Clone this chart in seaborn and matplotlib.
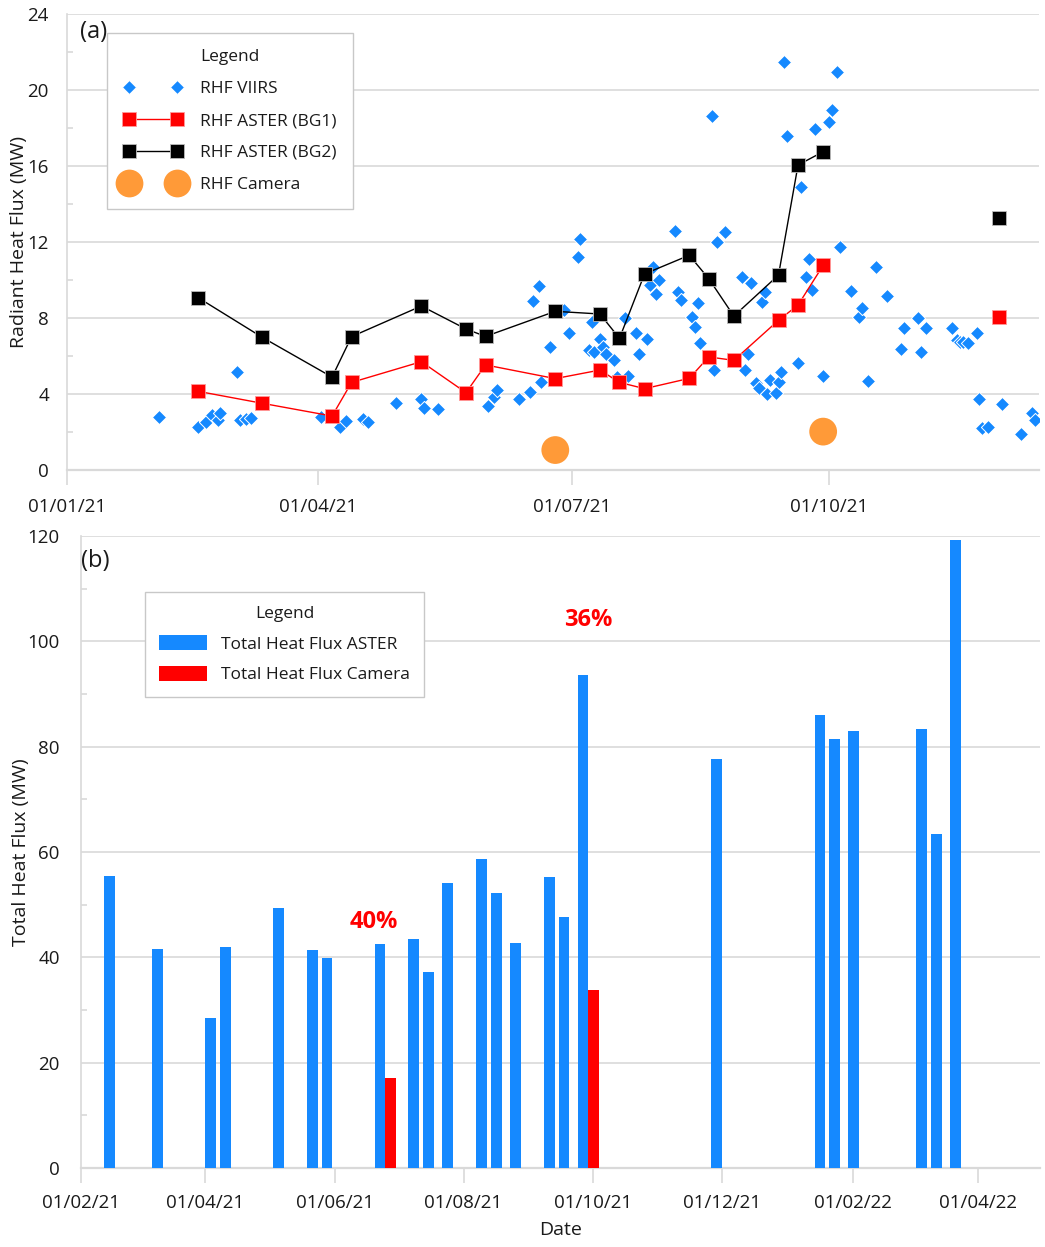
import numpy as np
import pandas as pd
import matplotlib
matplotlib.use("Agg")
import matplotlib.pyplot as plt
import matplotlib.dates as mdates
from matplotlib.lines import Line2D
from matplotlib.patches import Patch
from matplotlib.ticker import MultipleLocator
import seaborn as sns

# ---------------------------------------------------------------------------
# Radiant heat flux from VIIRS overpasses (MW)
# ---------------------------------------------------------------------------
viirs_dates = [
    "2021-02-03", "2021-02-17", "2021-02-20", "2021-02-22", "2021-02-24",
    "2021-02-25", "2021-03-03", "2021-03-04", "2021-03-06", "2021-03-08",
    "2021-04-02", "2021-04-09", "2021-04-11", "2021-04-17", "2021-04-19",
    "2021-04-29", "2021-05-08", "2021-05-09", "2021-05-14", "2021-06-01",
    "2021-06-03", "2021-06-04", "2021-06-12", "2021-06-16", "2021-06-17",
    "2021-06-19", "2021-06-20", "2021-06-23", "2021-06-28", "2021-06-30",
    "2021-07-03", "2021-07-04", "2021-07-07", "2021-07-08", "2021-07-09",
    "2021-07-11", "2021-07-12", "2021-07-13", "2021-07-16", "2021-07-17",
    "2021-07-20", "2021-07-21", "2021-07-24", "2021-07-25", "2021-07-28",
    "2021-07-29", "2021-07-30", "2021-07-31", "2021-08-01", "2021-08-07",
    "2021-08-08", "2021-08-09", "2021-08-13", "2021-08-14", "2021-08-15",
    "2021-08-16", "2021-08-20", "2021-08-21", "2021-08-22", "2021-08-25",
    "2021-08-31", "2021-09-01", "2021-09-02", "2021-09-03", "2021-09-05",
    "2021-09-06", "2021-09-07", "2021-09-08", "2021-09-09", "2021-09-10",
    "2021-09-12", "2021-09-13", "2021-09-14", "2021-09-15", "2021-09-16",
    "2021-09-20", "2021-09-21", "2021-09-23", "2021-09-24", "2021-09-25",
    "2021-09-26", "2021-09-29", "2021-10-01", "2021-10-02", "2021-10-04",
    "2021-10-05", "2021-10-09", "2021-10-12", "2021-10-13", "2021-10-15",
    "2021-10-18", "2021-10-22", "2021-10-27", "2021-10-28", "2021-11-02",
    "2021-11-03", "2021-11-05", "2021-11-14", "2021-11-16", "2021-11-17",
    "2021-11-18", "2021-11-20", "2021-11-23", "2021-11-24", "2021-11-25",
    "2021-11-27", "2021-12-02", "2021-12-09", "2021-12-13", "2021-12-14",
]
viirs_rhf = [
    2.77, 2.28, 2.54, 2.89, 2.63, 3.02, 5.14, 2.63, 2.68, 2.72,
    2.78, 2.28, 2.60, 2.67, 2.54, 3.51, 3.72, 3.25, 3.19, 3.38,
    3.86, 4.21, 3.76, 4.12, 8.89, 9.70, 4.61, 6.49, 8.42, 7.23,
    11.19, 12.14, 6.32, 7.81, 6.23, 6.88, 6.49, 6.10, 5.79, 4.91,
    7.98, 4.96, 7.19, 6.10, 6.88, 9.74, 10.70, 9.25, 10.00, 12.58,
    9.39, 8.95, 8.07, 7.54, 8.77, 6.67, 18.63, 5.26, 11.98, 12.51,
    10.18, 5.26, 6.10, 9.86, 4.56, 4.30, 8.86, 9.39, 4.00, 4.74,
    4.07, 4.65, 5.18, 21.49, 17.58, 5.61, 14.88, 10.18, 11.10, 9.47,
    17.93, 4.95, 18.33, 18.95, 20.96, 11.72, 9.42, 8.07, 8.51, 4.70,
    10.70, 9.16, 6.37, 7.49, 7.98, 6.21, 7.46, 7.46, 6.84, 6.75,
    6.75, 6.70, 7.23, 3.72, 2.23, 2.25, 3.47, 1.88, 3.02, 2.63,
]

# ---------------------------------------------------------------------------
# ASTER acquisitions
# ---------------------------------------------------------------------------
aster_dates = [
    "2021-02-17", "2021-03-12", "2021-04-06", "2021-04-13", "2021-05-08",
    "2021-05-24", "2021-05-31", "2021-06-25", "2021-07-11", "2021-07-18",
    "2021-07-27", "2021-08-12", "2021-08-19", "2021-08-28", "2021-09-13",
    "2021-09-20", "2021-09-29", "2021-12-01", "2022-01-19", "2022-01-26",
    "2022-02-04", "2022-03-08", "2022-03-15", "2022-03-24",
]
# Radiant heat flux with the two background estimates (first 18 scenes)
rhf_aster_bg1 = [4.14, 3.51, 2.84, 4.61, 5.70, 4.07, 5.53, 4.81, 5.26, 4.61,
                 4.28, 4.82, 5.95, 5.77, 7.88, 8.68, 10.77, 8.07]
rhf_aster_bg2 = [9.07, 6.98, 4.89, 7.02, 8.63, 7.42, 7.03, 8.35, 8.21, 6.93,
                 10.32, 11.30, 10.07, 8.10, 10.26, 16.05, 16.75, 13.28]
# continuous run index: the December scene is not joined to the series
rhf_aster_run = [0] * 17 + [1]

# Total heat flux (MW)
thf_aster = [55.4, 41.6, 28.5, 41.9, 49.4, 41.4, 39.9, 42.6, 43.5, 37.2,
             54.1, 58.6, 52.2, 42.7, 55.3, 47.7, 93.6, 77.6, 86.0, 81.5,
             83.0, 83.4, 63.5, 119.3]

# ---------------------------------------------------------------------------
# Thermal camera surveys
# ---------------------------------------------------------------------------
camera_dates = ["2021-06-25", "2021-09-29"]
rhf_camera = [1.05, 2.02]
thf_camera = [17.0, 33.8]

# ---------------------------------------------------------------------------
BLUE = "#1589ff"
RED = "#ff0000"
ORANGE = "#ff9a38"
GRID = "#d9d9d9"
TEXT = "#1a1a1a"
FONT = 13.5

sns.set_theme(style="white")
plt.rcParams["font.family"] = ["Open Sans", "DejaVu Sans"]
plt.rcParams["text.color"] = TEXT
plt.rcParams["axes.labelcolor"] = TEXT

fig = plt.figure(figsize=(10.45, 12.47), dpi=100)
ax1 = fig.add_axes([0.0641, 0.6231, 0.9301, 0.3657])
ax2 = fig.add_axes([0.0772, 0.0634, 0.9180, 0.5068])

# ---------------------------- panel (a) ------------------------------------
viirs = pd.DataFrame({"date": pd.to_datetime(viirs_dates), "rhf": viirs_rhf})
n_top = len(rhf_aster_bg1)
aster = pd.DataFrame({
    "date": pd.to_datetime(aster_dates[:n_top]),
    "bg1": rhf_aster_bg1,
    "bg2": rhf_aster_bg2,
    "run": rhf_aster_run,
})
camera = pd.DataFrame({"date": pd.to_datetime(camera_dates), "rhf": rhf_camera})

sns.scatterplot(data=viirs, x="date", y="rhf", marker="D", s=52, color=BLUE,
                edgecolor="white", linewidth=0.7, ax=ax1, zorder=3)
sns.lineplot(data=aster, x="date", y="bg2", units="run", estimator=None,
             color="black", lw=1.0, marker="s", markersize=10.5,
             markerfacecolor="black", markeredgecolor="#bbbbbb",
             markeredgewidth=0.6, ax=ax1, zorder=4)
sns.lineplot(data=aster, x="date", y="bg1", units="run", estimator=None,
             color=RED, lw=1.0, marker="s", markersize=10.5,
             markerfacecolor=RED, markeredgecolor="#ff9999",
             markeredgewidth=0.6, ax=ax1, zorder=5)
sns.scatterplot(data=camera, x="date", y="rhf", s=400, color=ORANGE,
                edgecolor="none", ax=ax1, zorder=6)

ax1.set_xlim(pd.Timestamp("2021-01-01"), pd.Timestamp("2021-12-15 08:00"))
ax1.set_ylim(0, 24)
ax1.yaxis.set_major_locator(MultipleLocator(4))
ax1.yaxis.set_minor_locator(MultipleLocator(2))
ax1.xaxis.set_major_locator(mdates.MonthLocator(bymonth=[1, 4, 7, 10]))
ax1.xaxis.set_major_formatter(mdates.DateFormatter("%d/%m/%y"))
ax1.set_xlabel("")
ax1.set_ylabel("Radiant Heat Flux (MW)", fontsize=14)
ax1.yaxis.set_label_coords(-0.0405, 0.5)

top_handles = [
    Line2D([], [], ls="none", marker="D", ms=7.5, mfc=BLUE, mec="white", mew=0.7),
    Line2D([], [], color=RED, lw=1.0, marker="s", ms=10.5, mfc=RED,
           mec="#ff9999", mew=0.6),
    Line2D([], [], color="black", lw=1.0, marker="s", ms=10.5, mfc="black",
           mec="#bbbbbb", mew=0.6),
    Line2D([], [], ls="none", marker="o", ms=20, mfc=ORANGE, mec="none"),
]
top_labels = ["RHF VIIRS", "RHF ASTER (BG1)", "RHF ASTER (BG2)", "RHF Camera"]
leg1 = ax1.legend(top_handles, top_labels, title="Legend", loc="upper left",
                  bbox_to_anchor=(0.0412, 0.9583), borderaxespad=0,
                  numpoints=2, fontsize=12.5, title_fontsize=12.5,
                  frameon=True, fancybox=False, framealpha=1,
                  edgecolor="#c8c8c8", borderpad=0.95, labelspacing=0.9,
                  handlelength=3.4, handletextpad=1.0)
leg1.get_frame().set_linewidth(1.0)

# ---------------------------- panel (b) ------------------------------------
SRC_ASTER = "Total Heat Flux ASTER"
SRC_CAMERA = "Total Heat Flux Camera"
thf = pd.DataFrame({
    "date": pd.to_datetime(aster_dates + camera_dates),
    "flux": thf_aster + thf_camera,
    "source": [SRC_ASTER] * len(aster_dates) + [SRC_CAMERA] * len(camera_dates),
})
thf["day"] = mdates.date2num(thf["date"].dt.to_pydatetime())

BAR_DAYS = 5.05
min_gap = np.diff(np.unique(thf["day"])).min()
sns.barplot(data=thf, x="day", y="flux", hue="source",
            hue_order=[SRC_ASTER, SRC_CAMERA], palette=[BLUE, RED],
            native_scale=True, dodge=True, gap=0,
            width=2 * BAR_DAYS / min_gap, errorbar=None, saturation=1,
            linewidth=0, legend=False, ax=ax2, zorder=3)

# camera / ASTER ratio labels
label_offsets = {"2021-06-25": (-5.5, 46.7), "2021-09-29": (0.0, 104.0)}
for d, cam in zip(camera_dates, thf_camera):
    ref = thf_aster[aster_dates.index(d)]
    dx, y = label_offsets[d]
    ax2.text(mdates.date2num(pd.Timestamp(d)) + dx, y,
             f"{round(100 * cam / ref)}%", color=RED, fontsize=17,
             fontweight="bold", ha="center", va="center", zorder=5)

ax2.set_xlim(mdates.date2num(pd.Timestamp("2021-02-01")),
             mdates.date2num(pd.Timestamp("2022-04-30 12:00")))
ax2.set_ylim(0, 120)
ax2.yaxis.set_major_locator(MultipleLocator(20))
ax2.yaxis.set_minor_locator(MultipleLocator(10))
ax2.xaxis.set_major_locator(mdates.MonthLocator(bymonth=[2, 4, 6, 8, 10, 12]))
ax2.xaxis.set_major_formatter(mdates.DateFormatter("%d/%m/%y"))
ax2.set_xlabel("Date", fontsize=14)
ax2.xaxis.set_label_coords(0.5, -0.084)
ax2.set_ylabel("Total Heat Flux (MW)", fontsize=14)
ax2.yaxis.set_label_coords(-0.0525, 0.5)

bot_handles = [Patch(facecolor=BLUE, edgecolor="none"),
               Patch(facecolor=RED, edgecolor="none")]
leg2 = ax2.legend(bot_handles, [SRC_ASTER, SRC_CAMERA], title="Legend",
                  loc="upper left", bbox_to_anchor=(0.067, 0.9114),
                  borderaxespad=0, fontsize=12.5, title_fontsize=12.5,
                  frameon=True, fancybox=False, framealpha=1,
                  edgecolor="#c8c8c8", borderpad=0.8, labelspacing=0.78,
                  handlelength=2.8, handleheight=0.9, handletextpad=0.8)
leg2.get_frame().set_linewidth(1.0)

# ---------------------------- shared styling -------------------------------
for ax, xpad, ypad in ((ax1, 9, 7), (ax2, 8, 9)):
    ax.set_axisbelow(True)
    ax.grid(axis="y", which="major", color=GRID, lw=1.2)
    ax.grid(axis="x", visible=False)
    for side in ("top", "right"):
        ax.spines[side].set_visible(False)
    ax.spines["left"].set_color(GRID)
    ax.spines["left"].set_linewidth(1.2)
    ax.spines["bottom"].set_color(GRID)
    ax.spines["bottom"].set_linewidth(1.6)
    ax.tick_params(axis="y", which="major", left=False, pad=ypad,
                   labelsize=FONT, labelcolor=TEXT)
    ax.tick_params(axis="y", which="minor", left=True, length=4,
                   direction="in", color=GRID, width=1.2)
    ax.tick_params(axis="x", which="major", bottom=True, length=11,
                   direction="out", color=GRID, width=1.2, pad=xpad,
                   labelsize=FONT, labelcolor=TEXT)

fig.text(94 / 1045, 1 - 32 / 1247, "(a)", fontsize=17, ha="center",
         va="center", color=TEXT)
fig.text(95 / 1045, 1 - 561 / 1247, "(b)", fontsize=17, ha="center",
         va="center", color=TEXT)

fig.savefig("out.png", dpi=100, facecolor="white")
